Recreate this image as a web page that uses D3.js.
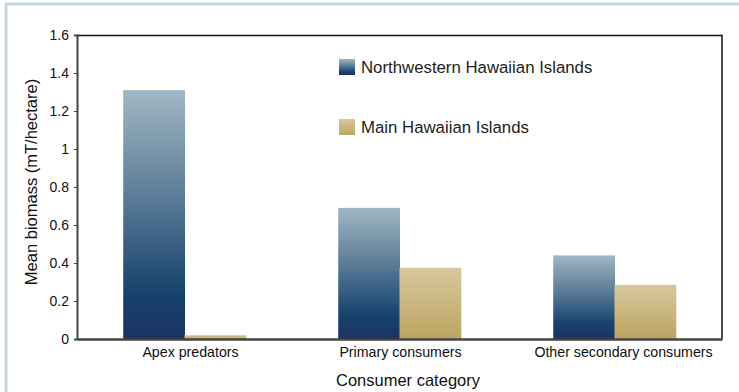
<!DOCTYPE html>
<html>
<head>
<meta charset="utf-8">
<script src="https://cdn.jsdelivr.net/npm/d3@7"></script>
<style>
  body { margin:0; background:#fff; }
  svg { display:block; font-family: "Liberation Sans", Arial, sans-serif; }
</style>
</head>
<body>
<script>
const categories = ['Apex predators','Primary consumers','Other secondary consumers']
const seriesNames = ['Northwestern Hawaiian Islands','Main Hawaiian Islands']
const nwhi = [1.31, 0.69, 0.44]
const mhi = [0.02, 0.375, 0.285]
const yTicks = [0,0.2,0.4,0.6,0.8,1,1.2,1.4,1.6]

const width = 739, height = 392
const margin = {top:35, right:17, bottom:53, left:77}

const svg = d3.select('body').append('svg')
  .attr('width',width).attr('height',height)

// gradients
const defs = svg.append('defs')
const gBlue = defs.append('linearGradient').attr('id','gBlue').attr('x1',0).attr('y1',0).attr('x2',0).attr('y2',1)
gBlue.append('stop').attr('offset','0%').attr('stop-color','#a0b8c4')
gBlue.append('stop').attr('offset','50%').attr('stop-color','#4f7190')
gBlue.append('stop').attr('offset','82%').attr('stop-color','#16426c')
gBlue.append('stop').attr('offset','100%').attr('stop-color','#1d3362')
const gGold = defs.append('linearGradient').attr('id','gGold').attr('x1',0).attr('y1',0).attr('x2',0).attr('y2',1)
gGold.append('stop').attr('offset','0%').attr('stop-color','#d7c89b')
gGold.append('stop').attr('offset','100%').attr('stop-color','#bca562')
const fills = ['url(#gBlue)','url(#gGold)']

// outer frame (top and left only)
svg.append('line').attr('x1',5).attr('x2',width).attr('y1',4).attr('y2',4)
  .attr('stroke','#c4d5e0').attr('stroke-width',3)
svg.append('line').attr('x1',6).attr('x2',6).attr('y1',3).attr('y2',height)
  .attr('stroke','#c4d5e0').attr('stroke-width',3)

const x0 = d3.scaleBand().domain(categories)
  .range([margin.left, width-margin.right]).paddingInner(0.43).paddingOuter(0.215)
const x1 = d3.scaleBand().domain(seriesNames).range([0, x0.bandwidth()])
const y = d3.scaleLinear().domain([0,1.6]).range([height-margin.bottom, margin.top])

const data = categories.map((c,i) => ({cat:c, vals:[nwhi[i], mhi[i]]}))

// bars
const groups = svg.append('g').selectAll('g').data(data).join('g')
  .attr('transform',d => `translate(${x0(d.cat)},0)`)
groups.selectAll('rect').data(d => d.vals.map((v,j) => ({v, s:seriesNames[j], j})))
  .join('rect')
  .attr('x',d => x1(d.s))
  .attr('width',x1.bandwidth()+0.5)
  .attr('y',d => y(d.v))
  .attr('height',d => y(0)-y(d.v))
  .attr('fill',d => fills[d.j])

// plot frame top/right
svg.append('path')
  .attr('d',`M${margin.left},${margin.top+0.5}H${width-margin.right}V${y(0)}`)
  .attr('fill','none').attr('stroke','#111').attr('stroke-width',1.5)

// y axis
const yAxis = svg.append('g')
  .attr('transform',`translate(${margin.left},0)`)
  .call(d3.axisLeft(y).tickValues(yTicks).tickFormat(d => d).tickSize(3).tickPadding(5))
yAxis.select('.domain').attr('stroke','#444').attr('stroke-width',2)
yAxis.selectAll('.tick line').attr('stroke','#444')
yAxis.selectAll('text').attr('font-size',14).attr('fill','#111')
  .attr('font-family','"Liberation Sans", Arial, sans-serif')

// x axis
const labelShift = [6,1,9]
const xAxis = svg.append('g')
  .attr('transform',`translate(0,${y(0)})`)
  .call(d3.axisBottom(x0).tickSize(0).tickPadding(8).tickSizeOuter(0))
xAxis.select('.domain').attr('stroke','#444').attr('stroke-width',2.5)
xAxis.selectAll('text').attr('font-size',14.2).attr('fill','#111')
  .attr('font-family','"Liberation Sans", Arial, sans-serif')
  .attr('dx',(d,i) => labelShift[i])

// axis titles
svg.append('text')
  .attr('transform',`translate(37,182) rotate(-90)`)
  .attr('text-anchor','middle').attr('font-size',16.5).attr('fill','#111')
  .text('Mean biomass (mT/hectare)')
svg.append('text')
  .attr('x',408).attr('y',386)
  .attr('text-anchor','middle').attr('font-size',16.5).attr('fill','#111')
  .text('Consumer category')

// legend
const legend = svg.append('g').selectAll('g').data(seriesNames).join('g')
  .attr('transform',(d,i) => `translate(339,${59+i*60})`)
legend.append('rect').attr('width',16).attr('height',16).attr('fill',(d,i) => fills[i])
legend.append('text').attr('x',22).attr('y',14)
  .attr('font-size',16.8).attr('fill','#222').text(d => d)
</script>
</body>
</html>
